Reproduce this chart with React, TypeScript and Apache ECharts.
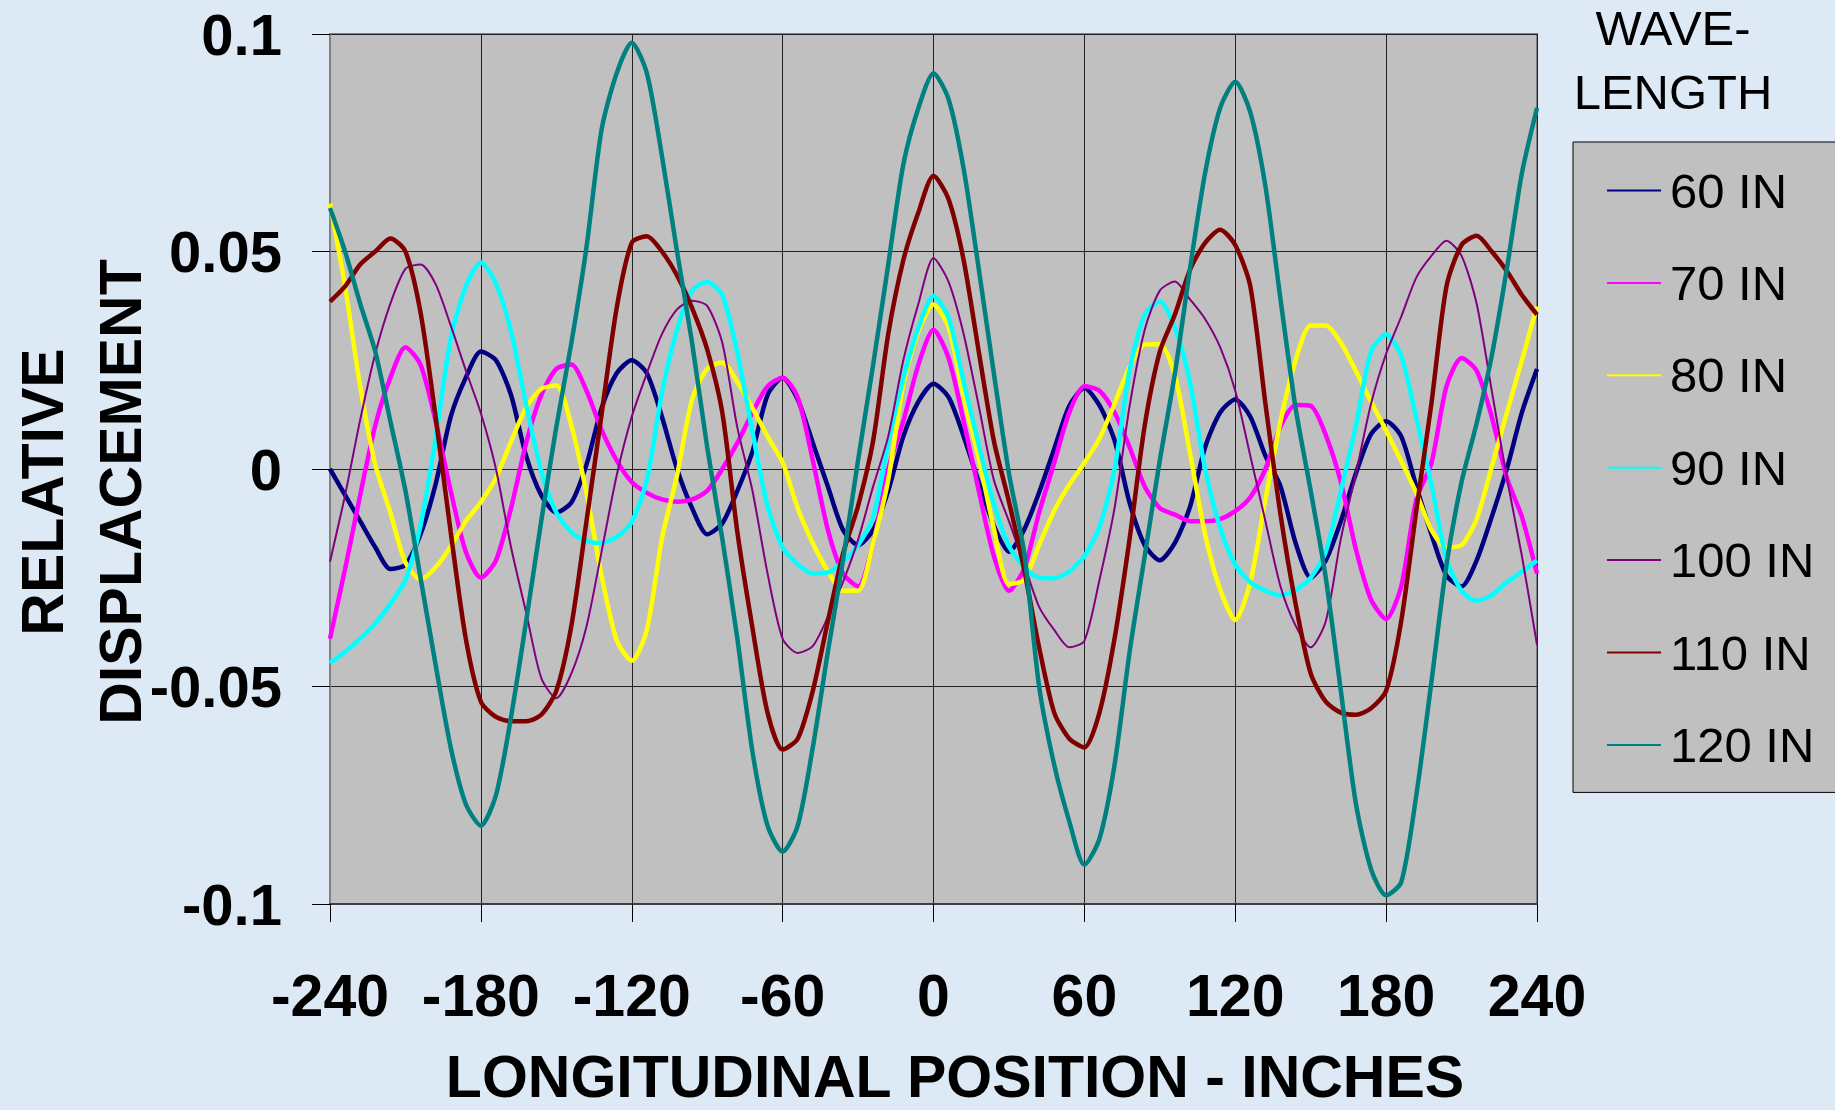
import React, { useEffect, useRef } from 'react';
import * as echarts from 'echarts';

const positions = [
  -240, -234, -228, -222, -216, -210, -204, -198, -192, -186,
  -180, -174, -168, -162, -156, -150, -144, -138, -132, -126,
  -120, -114, -108, -102, -96, -90, -84, -78, -72, -66,
  -60, -54, -48, -42, -36, -30, -24, -18, -12, -6,
  0, 6, 12, 18, 24, 30, 36, 42, 48, 54,
  60, 66, 72, 78, 84, 90, 96, 102, 108, 114,
  120, 126, 132, 138, 144, 150, 156, 162, 168, 174,
  180, 186, 192, 198, 204, 210, 216, 222, 228, 234,
  240,
];

const xTickLabels = ['-240', '-180', '-120', '-60', '0', '60', '120', '180', '240'];
const yTickLabels = ['-0.1', '-0.05', '0', '0.05', '0.1'];

const seriesNames = ['60 IN', '70 IN', '80 IN', '90 IN', '100 IN', '110 IN', '120 IN'];
const seriesColors = ['#000080', '#FF00FF', '#FFFF00', '#00FFFF', '#800080', '#800000', '#008080'];
const seriesWidths = [4.5, 4.5, 4.5, 4.5, 2, 4.5, 4.5];

const wave60 = [
  0.000, -0.006, -0.012, -0.018, -0.023, -0.022, -0.015, -0.0035, 0.012, 0.021,
  0.027, 0.025, 0.017, 0.003, -0.006, -0.010, -0.0077, 0.001, 0.014, 0.022,
  0.025, 0.022, 0.012, 0.000, -0.009, -0.015, -0.0125, -0.005, 0.004, 0.017,
  0.021, 0.016, 0.006, -0.004, -0.014, -0.0175, -0.014, -0.005, 0.0075, 0.0155,
  0.0196, 0.0165, 0.0075, -0.003, -0.013, -0.019, -0.014, -0.0054, 0.0046, 0.0145,
  0.0186, 0.0146, 0.0066, -0.0078, -0.0175, -0.021, -0.017, -0.0087, 0.005, 0.013,
  0.016, 0.012, 0.003, -0.004, -0.017, -0.025, -0.021, -0.012, -0.001, 0.008,
  0.011, 0.0075, -0.004, -0.015, -0.0245, -0.027, -0.021, -0.011, 0.000, 0.013,
  0.023,
];

const wave70 = [
  -0.039, -0.023, -0.006, 0.010, 0.021, 0.028, 0.024, 0.011, -0.005, -0.019,
  -0.025, -0.021, -0.009, 0.006, 0.017, 0.023, 0.024, 0.018, 0.009, 0.002,
  -0.003, -0.0055, -0.007, -0.0075, -0.007, -0.005, 0.000, 0.006, 0.013, 0.019,
  0.021, 0.0165, 0.002, -0.014, -0.024, -0.027, -0.017, 0.000, 0.011, 0.024,
  0.032, 0.0255, 0.011, -0.005, -0.020, -0.028, -0.023, -0.010, 0.0014, 0.013,
  0.019, 0.018, 0.013, 0.005, -0.004, -0.009, -0.0105, -0.012, -0.012, -0.0115,
  -0.0097, -0.0065, 0.000, 0.0098, 0.0147, 0.0145, 0.0078, -0.003, -0.0185, -0.030,
  -0.0345, -0.027, -0.007, 0.0013, 0.019, 0.0255, 0.0226, 0.012, -0.002, -0.011,
  -0.024,
];

const wave80 = [
  0.061, 0.042, 0.019, 0.001, -0.010, -0.0215, -0.0254, -0.0226, -0.0178, -0.012,
  -0.0076, -0.002, 0.0063, 0.0141, 0.0184, 0.0192, 0.010, -0.0055, -0.0245, -0.0393,
  -0.0441, -0.037, -0.016, -0.0015, 0.016, 0.023, 0.0245, 0.020, 0.014, 0.0075,
  0.0015, -0.009, -0.017, -0.0235, -0.028, -0.028, -0.017, -0.0025, 0.0195, 0.0317,
  0.0378, 0.0325, 0.0166, 0.0025, -0.0137, -0.0265, -0.0255, -0.0175, -0.0096, -0.0036,
  0.0014, 0.007, 0.015, 0.0235, 0.0286, 0.0287, 0.0215, 0.0037, -0.015, -0.0277,
  -0.0347, -0.026, -0.007, 0.011, 0.025, 0.033, 0.033, 0.029, 0.0225, 0.0155,
  0.0088, 0.0018, -0.0055, -0.014, -0.018, -0.0175, -0.0115, 0.0005, 0.0129, 0.025,
  0.0374,
];

const wave90 = [
  -0.0446, -0.042, -0.039, -0.0355, -0.031, -0.0255, -0.013, 0.007, 0.030, 0.042,
  0.0475, 0.0426, 0.0316, 0.0148, -0.0005, -0.010, -0.0145, -0.0165, -0.017, -0.0156,
  -0.0122, -0.0025, 0.0175, 0.032, 0.041, 0.043, 0.040, 0.0267, 0.0085, -0.0085,
  -0.018, -0.0219, -0.024, -0.0238, -0.0213, -0.0175, -0.011, 0.006, 0.021, 0.0325,
  0.0398, 0.0348, 0.020, 0.0055, -0.008, -0.0177, -0.0225, -0.025, -0.0251, -0.0236,
  -0.020, -0.0134, 0.000, 0.0228, 0.0355, 0.0385, 0.0325, 0.020, 0.000, -0.0135,
  -0.022, -0.026, -0.028, -0.029, -0.0278, -0.025, -0.019, -0.005, 0.010, 0.027,
  0.031, 0.026, 0.0117, -0.0035, -0.0207, -0.028, -0.0303, -0.029, -0.026, -0.0236,
  -0.021,
];

const wave100 = [
  -0.0213, -0.006, 0.0113, 0.0265, 0.038, 0.046, 0.047, 0.0425, 0.033, 0.0227,
  0.0128, 0.000, -0.018, -0.033, -0.048, -0.0527, -0.047, -0.0362, -0.019, -0.0015,
  0.012, 0.022, 0.031, 0.0367, 0.0387, 0.0375, 0.029, 0.0095, -0.005, -0.024,
  -0.039, -0.0423, -0.0407, -0.034, -0.026, -0.0163, -0.004, 0.0075, 0.025, 0.038,
  0.0485, 0.043, 0.031, 0.0145, -0.0025, -0.012, -0.0218, -0.0317, -0.037, -0.041,
  -0.0395, -0.0255, -0.009, 0.0145, 0.032, 0.041, 0.0431, 0.039, 0.0345, 0.028,
  0.018, 0.003, -0.012, -0.027, -0.036, -0.041, -0.035, -0.016, -0.001, 0.015,
  0.0265, 0.035, 0.044, 0.049, 0.0525, 0.049, 0.038, 0.018, -0.002, -0.020,
  -0.0404,
];

const wave110 = [
  0.0385, 0.042, 0.047, 0.050, 0.053, 0.050, 0.036, 0.012, -0.0145, -0.039,
  -0.0535, -0.057, -0.058, -0.058, -0.0565, -0.051, -0.036, -0.012, 0.0125, 0.037,
  0.052, 0.0535, 0.050, 0.0445, 0.037, 0.0275, 0.013, -0.0145, -0.0365, -0.056,
  -0.0645, -0.062, -0.051, -0.035, -0.0195, -0.0085, 0.0065, 0.031, 0.048, 0.059,
  0.0674, 0.062, 0.048, 0.027, 0.0065, -0.0075, -0.023, -0.041, -0.056, -0.062,
  -0.064, -0.056, -0.039, -0.016, 0.010, 0.027, 0.0355, 0.0458, 0.052, 0.055,
  0.0515, 0.042, 0.015, -0.0105, -0.031, -0.047, -0.0535, -0.056, -0.0565, -0.055,
  -0.051, -0.035, -0.0095, 0.015, 0.042, 0.0515, 0.0536, 0.050, 0.0455, 0.040,
  0.0355,
];

const wave120 = [
  0.060, 0.050, 0.038, 0.027, 0.011, -0.005, -0.025, -0.045, -0.064, -0.077,
  -0.082, -0.075, -0.057, -0.035, -0.012, 0.0097, 0.029, 0.051, 0.078, 0.091,
  0.098, 0.091, 0.072, 0.050, 0.029, 0.005, -0.016, -0.039, -0.065, -0.082,
  -0.088, -0.082, -0.064, -0.042, -0.021, 0.002, 0.024, 0.047, 0.070, 0.083,
  0.091, 0.085, 0.069, 0.046, 0.022, -0.001, -0.019, -0.050, -0.068, -0.081,
  -0.091, -0.085, -0.068, -0.042, -0.020, 0.002, 0.022, 0.046, 0.068, 0.083,
  0.089, 0.082, 0.065, 0.039, 0.014, -0.005, -0.025, -0.051, -0.077, -0.092,
  -0.098, -0.095, -0.075, -0.049, -0.022, -0.003, 0.0105, 0.026, 0.046, 0.068,
  0.083,
];

const allWaves = [wave60, wave70, wave80, wave90, wave100, wave110, wave120];

const FONT = '"Liberation Sans", Arial, Helvetica, sans-serif';

export default function App() {
  const ref = useRef<HTMLDivElement>(null);

  useEffect(() => {
    document.body.style.margin = '0';
    if (!ref.current) return;
    const chart = echarts.init(ref.current, null, { renderer: 'svg' });

    const series = seriesNames.map((name, si) => ({
      name,
      type: 'line',
      symbol: 'none',
      smooth: 0.25,
      clip: true,
      data: positions.map((x, i) => [x, allWaves[si][i]]),
      lineStyle: { color: seriesColors[si], width: seriesWidths[si] },
      itemStyle: { color: seriesColors[si] },
      emphasis: { disabled: true },
      z: 2 + si,
    }));

    chart.setOption({
      animation: false,
      backgroundColor: '#DDE9F5',
      textStyle: { fontFamily: FONT },
      grid: {
        left: 330,
        top: 34,
        width: 1207,
        height: 870,
        show: true,
        backgroundColor: '#C0C0C0',
        borderColor: '#808080',
        borderWidth: 2,
      },
      xAxis: {
        type: 'value',
        min: -240,
        max: 240,
        interval: 60,
        axisLine: { show: true, onZero: false, lineStyle: { color: '#404040', width: 2 } },
        axisTick: { show: true, length: 18, lineStyle: { color: '#000', width: 1 } },
        axisLabel: {
          margin: 62,
          fontSize: 59,
          fontWeight: 'bold',
          color: '#000',
          fontFamily: FONT,
          formatter: (v: number) => xTickLabels[Math.round((v + 240) / 60)] ?? '',
        },
        splitLine: { show: true, lineStyle: { color: '#222', width: 1 } },
      },
      yAxis: {
        type: 'value',
        min: -0.1,
        max: 0.1,
        interval: 0.05,
        axisLine: { show: true, onZero: false, lineStyle: { color: '#808080', width: 2 } },
        axisTick: { show: true, length: 18, lineStyle: { color: '#000', width: 1 } },
        axisLabel: {
          margin: 48,
          fontSize: 58,
          fontWeight: 'bold',
          color: '#000',
          fontFamily: FONT,
          formatter: (v: number) => yTickLabels[Math.round((v + 0.1) / 0.05)] ?? '',
        },
        splitLine: { show: true, lineStyle: { color: '#222', width: 1 } },
      },
      legend: {
        orient: 'vertical',
        left: 1573,
        top: 142,
        padding: [24, 400, 23, 33],
        itemWidth: 54,
        itemHeight: 4,
        itemGap: 43.4,
        backgroundColor: '#C0C0C0',
        borderColor: '#000',
        borderWidth: 1,
        selectedMode: false,
        itemStyle: { opacity: 0 },
        textStyle: { fontSize: 49, color: '#000', fontFamily: FONT, padding: [0, 0, 0, 4] },
        data: seriesNames,
      },
      graphic: [
        {
          type: 'text',
          x: 82,
          y: 492,
          rotation: Math.PI / 2,
          style: {
            text: 'RELATIVE\nDISPLACEMENT',
            fontSize: 59,
            fontWeight: 'bold',
            fontFamily: FONT,
            fill: '#000',
            align: 'center',
            verticalAlign: 'middle',
            lineHeight: 78,
          },
        },
        {
          type: 'text',
          x: 955,
          y: 1077,
          style: {
            text: 'LONGITUDINAL POSITION - INCHES',
            fontSize: 59,
            fontWeight: 'bold',
            fontFamily: FONT,
            fill: '#000',
            align: 'center',
            verticalAlign: 'middle',
          },
        },
        {
          type: 'text',
          x: 1673,
          y: 28,
          style: {
            text: 'WAVE-',
            fontSize: 49,
            fontFamily: FONT,
            fill: '#000',
            align: 'center',
            verticalAlign: 'middle',
          },
        },
        {
          type: 'text',
          x: 1673,
          y: 92,
          style: {
            text: 'LENGTH',
            fontSize: 49,
            fontFamily: FONT,
            fill: '#000',
            align: 'center',
            verticalAlign: 'middle',
          },
        },
      ],
      series,
    });

    return () => chart.dispose();
  }, []);

  return (
    <div
      ref={ref}
      style={{ position: 'fixed', left: 0, top: 0, width: 1835, height: 1110 }}
    />
  );
}
